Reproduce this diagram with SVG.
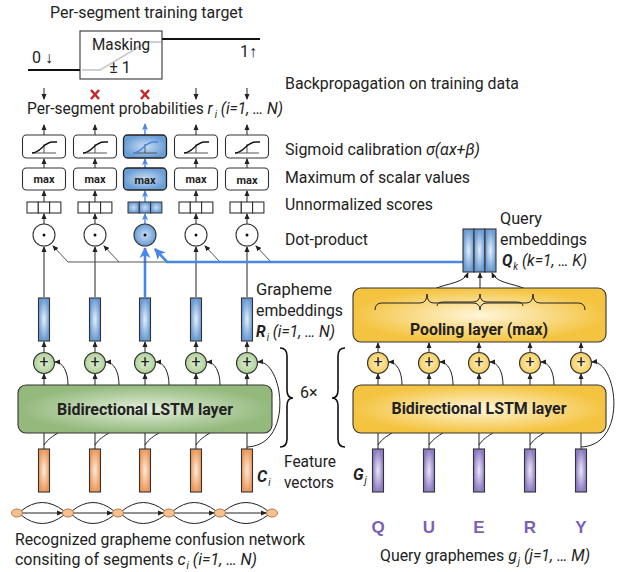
<svg xmlns="http://www.w3.org/2000/svg" width="622" height="572" viewBox="0 0 622 572">
<style>
.t{font-family:Roboto,"Liberation Sans",sans-serif;font-size:16px;fill:#222}
.b{font-weight:bold}
.i{font-style:italic}
.ln{stroke:#222;stroke-width:1;fill:none}
.gl{stroke:#555;stroke-width:1;fill:none}
.bl{stroke:#4a86e8;fill:none}
.box{fill:#fff;stroke:#333;stroke-width:1.1}
.mx{font-family:Roboto,"Liberation Sans",sans-serif;font-weight:bold;font-size:10.5px;fill:#222;text-anchor:middle}
.q{font-family:"Liberation Sans",Arial,sans-serif;font-weight:bold;font-size:17px;fill:#7b5fb8;text-anchor:middle}
</style>
<defs>
<marker id="a" markerUnits="userSpaceOnUse" markerWidth="6" markerHeight="6" refX="5" refY="3" orient="auto"><path d="M0,0.5 L6,3 L0,5.5 z" fill="#222"/></marker>
<marker id="ab" markerUnits="userSpaceOnUse" markerWidth="7" markerHeight="7" refX="6" refY="3.5" orient="auto"><path d="M0,0.5 L7,3.5 L0,6.5 L1.5,3.5 z" fill="#4a86e8"/></marker>
<marker id="abL" markerUnits="userSpaceOnUse" markerWidth="12" markerHeight="12" refX="10" refY="6" orient="auto"><path d="M0,0.5 L11,6 L0,11.5 L3,6 z" fill="#4a86e8"/></marker>
<radialGradient id="gBlue"><stop offset="0" stop-color="#e4eef9"/><stop offset="1" stop-color="#6a9bd3"/></radialGradient>
<radialGradient id="gBlueBox"><stop offset="0" stop-color="#c9def4"/><stop offset="1" stop-color="#6b9dd6"/></radialGradient>
<radialGradient id="gOr"><stop offset="0" stop-color="#fdeadb"/><stop offset="1" stop-color="#ec9a5c"/></radialGradient>
<radialGradient id="gPu"><stop offset="0" stop-color="#ece7f6"/><stop offset="1" stop-color="#8e7cc3"/></radialGradient>
<radialGradient id="gGr"><stop offset="0" stop-color="#e3eedb"/><stop offset="1" stop-color="#93b97c"/></radialGradient>
<radialGradient id="gYe"><stop offset="0" stop-color="#fff6da"/><stop offset="1" stop-color="#f4c441"/></radialGradient>
<radialGradient id="gGrC"><stop offset="0" stop-color="#e0eed6"/><stop offset="1" stop-color="#aed197"/></radialGradient>
<radialGradient id="gYeC"><stop offset="0" stop-color="#fff1c4"/><stop offset="1" stop-color="#f6cd5a"/></radialGradient>
<g id="sig"><path d="M-12,18 H12 M0,9 V18" stroke="#555" stroke-width="1" fill="none"/><path d="M-12,18 C-3,18 -1,7 9,7 H13" stroke="#111" stroke-width="1.3" fill="none"/></g>
</defs>

<g id="target">
<text class="t" x="50" y="18" textLength="193" lengthAdjust="spacingAndGlyphs">Per-segment training target</text>
<rect x="80" y="31" width="82" height="48" fill="#fff" stroke="#333" stroke-width="1.1"/>
<path d="M82,70 H100 L147,42 H161" stroke="#cfcfcf" stroke-width="2" fill="none"/>
<path d="M28,70 H80 M162,39 H260" stroke="#111" stroke-width="2.2" fill="none"/>
<text class="t" x="121" y="50" text-anchor="middle" textLength="58" lengthAdjust="spacingAndGlyphs">Masking</text>
<text class="t" x="120" y="73" text-anchor="middle">± 1</text>
<text class="t" x="32" y="63" font-size="17">0 ↓</text>
<text class="t" x="240" y="57" font-size="17">1↑</text>
</g>

<g id="signals">
<path d="M44,88 V99" class="ln" marker-end="url(#a)"/>
<path d="M196,88 V99" class="ln" marker-end="url(#a)"/>
<path d="M247,88 V99" class="ln" marker-end="url(#a)"/>
<path d="M91,90 L99,99 M99,90 L91,99 M141,90 L149,99 M149,90 L141,99" stroke="#c62828" stroke-width="2.5" fill="none"/>
</g>

<g id="labels">
<text class="t" x="285" y="89" textLength="234" lengthAdjust="spacingAndGlyphs">Backpropagation on training data</text>
<text class="t" x="27" y="114" textLength="256" lengthAdjust="spacingAndGlyphs">Per-segment probabilities <tspan class="i">r</tspan><tspan class="i" font-size="10" dx="2" dy="4">i</tspan><tspan class="i" dy="-4"> (i=1, … N)</tspan></text>
<text class="t" x="285" y="155" textLength="195" lengthAdjust="spacingAndGlyphs">Sigmoid calibration <tspan class="i">σ(αx+β)</tspan></text>
<text class="t" x="285" y="183" textLength="185" lengthAdjust="spacingAndGlyphs">Maximum of scalar values</text>
<text class="t" x="285" y="210" textLength="148" lengthAdjust="spacingAndGlyphs">Unnormalized scores</text>
<text class="t" x="285" y="245" textLength="83" lengthAdjust="spacingAndGlyphs">Dot-product</text>
<text class="t" x="500" y="224" textLength="42" lengthAdjust="spacingAndGlyphs">Query</text>
<text class="t" x="500" y="245" textLength="87" lengthAdjust="spacingAndGlyphs">embeddings</text>
<text class="t" x="502" y="266" textLength="85" lengthAdjust="spacingAndGlyphs"><tspan class="b i">Q</tspan><tspan class="i" font-size="10" dx="1" dy="4">k</tspan><tspan class="i" dy="-4"> (k=1, … K)</tspan></text>
<text class="t" x="256" y="295" textLength="76" lengthAdjust="spacingAndGlyphs">Grapheme</text>
<text class="t" x="256" y="316" textLength="87" lengthAdjust="spacingAndGlyphs">embeddings</text>
<text class="t" x="256" y="337" textLength="79" lengthAdjust="spacingAndGlyphs"><tspan class="b i">R</tspan><tspan class="i" font-size="10" dx="1" dy="4">i</tspan><tspan class="i" dy="-4"> (i=1, … N)</tspan></text>
<text class="t" x="284" y="467" textLength="52" lengthAdjust="spacingAndGlyphs">Feature</text>
<text class="t" x="284" y="488" textLength="50" lengthAdjust="spacingAndGlyphs">vectors</text>
<text class="t" x="257" y="482" font-size="18"><tspan class="b i">C</tspan><tspan class="i" font-size="10" dx="1" dy="4">i</tspan></text>
<text class="t" x="353" y="480" font-size="18"><tspan class="b i">G</tspan><tspan class="i" font-size="10" dx="1" dy="4">j</tspan></text>
<text class="t" x="300" y="398" font-size="17">6×</text>
<text class="t" x="15" y="545" textLength="290" lengthAdjust="spacingAndGlyphs">Recognized grapheme confusion network</text>
<text class="t" x="15" y="565" textLength="242" lengthAdjust="spacingAndGlyphs">consiting of segments <tspan class="i">c</tspan><tspan class="i" font-size="10" dx="1" dy="4">i</tspan><tspan class="i" dy="-4"> (i=1, … N)</tspan></text>
<text class="t" x="380" y="561" textLength="210" lengthAdjust="spacingAndGlyphs">Query graphemes <tspan class="i">g</tspan><tspan class="i" font-size="10" dx="1" dy="4">j</tspan><tspan class="i" dy="-4"> (j=1, … M)</tspan></text>
</g>

<g id="connectors">
<path class="ln" d="M44,224 V214" marker-end="url(#a)"/><path class="ln" d="M44,202 V191" marker-end="url(#a)"/><path class="ln" d="M44,168 V159" marker-end="url(#a)"/><path class="ln" d="M44,135 V125" marker-end="url(#a)"/>
<path class="ln" d="M95,224 V214" marker-end="url(#a)"/><path class="ln" d="M95,202 V191" marker-end="url(#a)"/><path class="ln" d="M95,168 V159" marker-end="url(#a)"/><path class="ln" d="M95,135 V125" marker-end="url(#a)"/>
<path class="ln" d="M196,224 V214" marker-end="url(#a)"/><path class="ln" d="M196,202 V191" marker-end="url(#a)"/><path class="ln" d="M196,168 V159" marker-end="url(#a)"/><path class="ln" d="M196,135 V125" marker-end="url(#a)"/>
<path class="ln" d="M247,224 V214" marker-end="url(#a)"/><path class="ln" d="M247,202 V191" marker-end="url(#a)"/><path class="ln" d="M247,168 V159" marker-end="url(#a)"/><path class="ln" d="M247,135 V125" marker-end="url(#a)"/>
<path class="bl" stroke-width="1.4" d="M145,224 V214" marker-end="url(#ab)"/><path class="bl" stroke-width="1.4" d="M145,202 V191" marker-end="url(#ab)"/><path class="bl" stroke-width="1.4" d="M145,168 V159" marker-end="url(#ab)"/><path class="bl" stroke-width="1.4" d="M145,135 V124" marker-end="url(#ab)"/>
<path class="ln" d="M44,297 V247" marker-end="url(#a)"/>
<path class="ln" d="M95,297 V247" marker-end="url(#a)"/>
<path class="ln" d="M196,297 V247" marker-end="url(#a)"/>
<path class="ln" d="M247,297 V247" marker-end="url(#a)"/>
<path class="bl" stroke-width="2.6" d="M145,297 V248" marker-end="url(#abL)"/>
<path class="gl" d="M68,262 H167"/>
<path class="gl" d="M68,262 L53,246" marker-end="url(#a)"/>
<path class="gl" d="M119,262 L104,246" marker-end="url(#a)"/>
<path class="gl" d="M220,262 L205,246" marker-end="url(#a)"/>
<path class="gl" d="M271,262 L256,246" marker-end="url(#a)"/>
<path class="bl" stroke-width="2.6" d="M463,262 H167 L155,249" marker-end="url(#abL)"/>
<path class="ln" d="M44,352 V342" marker-end="url(#a)"/><path class="ln" d="M95,352 V342" marker-end="url(#a)"/><path class="ln" d="M145,352 V342" marker-end="url(#a)"/><path class="ln" d="M196,352 V342" marker-end="url(#a)"/><path class="ln" d="M247,352 V342" marker-end="url(#a)"/>
<path class="ln" d="M44,385 V374" marker-end="url(#a)"/><path class="ln" d="M95,385 V374" marker-end="url(#a)"/><path class="ln" d="M145,385 V374" marker-end="url(#a)"/><path class="ln" d="M196,385 V374" marker-end="url(#a)"/><path class="ln" d="M247,385 V374" marker-end="url(#a)"/>
<path class="ln" d="M68,385 C68,372 63,362 55,362" marker-end="url(#a)"/>
<path class="ln" d="M119,385 C119,372 114,362 106,362" marker-end="url(#a)"/>
<path class="ln" d="M169,385 C169,372 164,362 156,362" marker-end="url(#a)"/>
<path class="ln" d="M220,385 C220,372 215,362 207,362" marker-end="url(#a)"/>
<path class="ln" d="M247,447 C295,445 283,360 258,362" marker-end="url(#a)"/>
<path class="ln" d="M44,449 V433 M95,449 V433 M145,449 V433 M196,449 V433 M247,449 V433"/>
<path class="ln" d="M44,445 C48,439 53,436 58,433 M95,445 C99,439 104,436 109,433 M145,445 C149,439 154,436 159,433 M196,445 C200,439 205,436 210,433"/>
<path class="ln" d="M378,352 V343" marker-end="url(#a)"/><path class="ln" d="M429,352 V343" marker-end="url(#a)"/><path class="ln" d="M479,352 V343" marker-end="url(#a)"/><path class="ln" d="M530,352 V343" marker-end="url(#a)"/><path class="ln" d="M581,352 V343" marker-end="url(#a)"/>
<path class="ln" d="M378,385 V374" marker-end="url(#a)"/><path class="ln" d="M429,385 V374" marker-end="url(#a)"/><path class="ln" d="M479,385 V374" marker-end="url(#a)"/><path class="ln" d="M530,385 V374" marker-end="url(#a)"/><path class="ln" d="M581,385 V374" marker-end="url(#a)"/>
<path class="ln" d="M402,385 C402,372 397,362 389,362" marker-end="url(#a)"/>
<path class="ln" d="M453,385 C453,372 448,362 440,362" marker-end="url(#a)"/>
<path class="ln" d="M503,385 C503,372 498,362 490,362" marker-end="url(#a)"/>
<path class="ln" d="M554,385 C554,372 549,362 541,362" marker-end="url(#a)"/>
<path class="ln" d="M581,447 C629,445 617,360 592,362" marker-end="url(#a)"/>
<path class="ln" d="M378,449 V433 M429,449 V433 M479,449 V433 M530,449 V433 M581,449 V433"/>
<path class="ln" d="M378,445 C382,439 387,436 392,433 M429,445 C433,439 438,436 443,433 M479,445 C483,439 488,436 493,433 M530,445 C534,439 539,436 544,433"/>
<path class="ln" d="M427,294 C440,282 462,286 468,273" marker-end="url(#a)"/>
<path class="ln" d="M480,294 V273" marker-end="url(#a)"/>
<path class="ln" d="M533,294 C520,282 498,286 492,273" marker-end="url(#a)"/>
<path d="M280,348 Q287,348 287,356 L287,390 Q287,398 293,398 Q287,398 287,406 L287,439 Q287,447 280,447" stroke="#111" stroke-width="1.6" fill="none"/>
<path d="M345,348 Q338,348 338,356 L338,390 Q338,398 332,398 Q338,398 338,406 L338,439 Q338,447 345,447" stroke="#111" stroke-width="1.6" fill="none"/>
<g class="ln" stroke-width="0.9">
<path d="M22,513 H62" marker-end="url(#a)"/><path d="M73,513 H112" marker-end="url(#a)"/><path d="M123,513 H163" marker-end="url(#a)"/><path d="M174,513 H214" marker-end="url(#a)"/><path d="M225,513 H266" marker-end="url(#a)"/>
<path d="M21,511 Q42,494 64,511 M21,515 Q42,532 64,515"/>
<path d="M72,511 Q93,494 114,511 M72,515 Q93,532 114,515"/>
<path d="M122,511 Q143,494 165,511 M122,515 Q143,532 165,515"/>
<path d="M173,511 Q194,494 216,511 M173,515 Q194,532 216,515"/>
<path d="M224,511 Q246,494 268,511 M224,515 Q246,532 268,515"/>
</g>
</g>

<g id="col1"><rect class="box" x="22.5" y="135" width="43" height="23" rx="4"/><use href="#sig" x="44" y="135"/><rect class="box" x="22.5" y="168" width="43" height="22" rx="4"/><text class="mx" x="44" y="183" textLength="21" lengthAdjust="spacingAndGlyphs">max</text><rect class="box" x="27" y="202" width="11.3" height="11"/><rect class="box" x="38.3" y="202" width="11.3" height="11"/><rect class="box" x="49.6" y="202" width="11.3" height="11"/><circle class="box" cx="44" cy="235" r="11"/><circle cx="44" cy="235" r="1.5" fill="#111"/></g>
<g id="col2"><rect class="box" x="73.5" y="135" width="43" height="23" rx="4"/><use href="#sig" x="95" y="135"/><rect class="box" x="73.5" y="168" width="43" height="22" rx="4"/><text class="mx" x="95" y="183" textLength="21" lengthAdjust="spacingAndGlyphs">max</text><rect class="box" x="78" y="202" width="11.3" height="11"/><rect class="box" x="89.3" y="202" width="11.3" height="11"/><rect class="box" x="100.6" y="202" width="11.3" height="11"/><circle class="box" cx="95" cy="235" r="11"/><circle cx="95" cy="235" r="1.5" fill="#111"/></g>
<g id="col3"><rect x="123.5" y="135" width="43" height="23" rx="4" fill="url(#gBlueBox)" stroke="#222" stroke-width="1.3"/><path d="M133,153 H157 M145,144 V153" stroke="#555" stroke-width="1" fill="none"/><path d="M133,153 C142,153 144,142 154,142 H158" stroke="#4a86e8" stroke-width="1.4" fill="none"/><rect x="123.5" y="168" width="43" height="22" rx="4" fill="url(#gBlueBox)" stroke="#222" stroke-width="1.3"/><text class="mx" x="145" y="184" textLength="21" lengthAdjust="spacingAndGlyphs">max</text><rect x="128" y="202" width="11.3" height="11" fill="url(#gBlueBox)" stroke="#333"/><rect x="139.3" y="202" width="11.3" height="11" fill="url(#gBlueBox)" stroke="#333"/><rect x="150.6" y="202" width="11.3" height="11" fill="url(#gBlueBox)" stroke="#333"/><circle cx="145" cy="235" r="11" fill="url(#gBlueBox)" stroke="#333" stroke-width="1.1"/><circle cx="145" cy="235" r="1.5" fill="#111"/></g>
<g id="col4"><rect class="box" x="174.5" y="135" width="43" height="23" rx="4"/><use href="#sig" x="196" y="135"/><rect class="box" x="174.5" y="168" width="43" height="22" rx="4"/><text class="mx" x="196" y="183" textLength="21" lengthAdjust="spacingAndGlyphs">max</text><rect class="box" x="179" y="202" width="11.3" height="11"/><rect class="box" x="190.3" y="202" width="11.3" height="11"/><rect class="box" x="201.6" y="202" width="11.3" height="11"/><circle class="box" cx="196" cy="235" r="11"/><circle cx="196" cy="235" r="1.5" fill="#111"/></g>
<g id="col5"><rect class="box" x="225.5" y="135" width="43" height="23" rx="4"/><use href="#sig" x="247" y="135"/><rect class="box" x="225.5" y="168" width="43" height="22" rx="4"/><text class="mx" x="247" y="184" textLength="21" lengthAdjust="spacingAndGlyphs">max</text><rect class="box" x="230" y="202" width="11.3" height="11"/><rect class="box" x="241.3" y="202" width="11.3" height="11"/><rect class="box" x="252.6" y="202" width="11.3" height="11"/><circle class="box" cx="247" cy="235" r="11"/><circle cx="247" cy="235" r="1.5" fill="#111"/></g>

<g id="query-emb" stroke="#333" stroke-width="1.1">
<rect x="463" y="229" width="11" height="43" fill="url(#gBlue)"/>
<rect x="474" y="229" width="11" height="43" fill="url(#gBlue)"/>
<rect x="485" y="229" width="11" height="43" fill="url(#gBlue)"/>
</g>

<g id="R" stroke="#333" stroke-width="1.1" fill="url(#gBlue)">
<rect x="38.5" y="298" width="11" height="43"/><rect x="89.5" y="298" width="11" height="43"/><rect x="139.5" y="298" width="11" height="43"/><rect x="190.5" y="298" width="11" height="43"/><rect x="241.5" y="298" width="11" height="43"/>
</g>

<g id="addL">
<g stroke="#333" stroke-width="1.1" fill="url(#gGrC)"><circle cx="44" cy="363" r="10.5"/><circle cx="95" cy="363" r="10.5"/><circle cx="145" cy="363" r="10.5"/><circle cx="196" cy="363" r="10.5"/><circle cx="247" cy="363" r="10.5"/></g>
<g class="t" font-size="11" text-anchor="middle"><text x="44" y="367">+</text><text x="95" y="367">+</text><text x="145" y="367">+</text><text x="196" y="367">+</text><text x="247" y="367">+</text></g>
</g>

<g id="lstmL"><rect x="18" y="385" width="254" height="48" rx="8" fill="url(#gGr)" stroke="#333" stroke-width="1.1"/><text class="t b" x="145" y="415" text-anchor="middle" font-size="18" textLength="176" lengthAdjust="spacingAndGlyphs">Bidirectional LSTM layer</text></g>

<g id="C" stroke="#333" stroke-width="1.1" fill="url(#gOr)">
<rect x="38.5" y="449" width="11" height="43"/><rect x="89.5" y="449" width="11" height="43"/><rect x="139.5" y="449" width="11" height="43"/><rect x="190.5" y="449" width="11" height="43"/><rect x="241.5" y="449" width="11" height="43"/>
</g>

<g id="confnet" fill="#f6c08f" stroke="#b0703e" stroke-width="0.9">
<ellipse cx="17" cy="513" rx="5.5" ry="4"/><ellipse cx="68" cy="513" rx="5.5" ry="4"/><ellipse cx="118" cy="513" rx="5.5" ry="4"/><ellipse cx="169" cy="513" rx="5.5" ry="4"/><ellipse cx="220" cy="513" rx="5.5" ry="4"/><ellipse cx="272" cy="513" rx="5.5" ry="4"/>
</g>

<g id="pooling"><rect x="353" y="288" width="253" height="54" rx="8" fill="url(#gYe)" stroke="#333" stroke-width="1.1"/>
<path d="M375,310 Q375,303 382,303 L420,303 Q427,303 427,294 Q427,303 434,303 L473,303 Q480,303 480,310" class="ln"/>
<path d="M437,306 Q437,302 444,302 L473,302 Q480,302 480,294 Q480,302 487,302 L516,302 Q523,302 523,306" class="ln"/>
<path d="M480,310 Q480,303 487,303 L526,303 Q533,303 533,294 Q533,303 540,303 L578,303 Q585,303 585,310" class="ln"/>
<text class="t b" x="479" y="335" text-anchor="middle" font-size="18" textLength="138" lengthAdjust="spacingAndGlyphs">Pooling layer (max)</text></g>

<g id="addR">
<g stroke="#333" stroke-width="1.1" fill="url(#gYeC)"><circle cx="378" cy="363" r="10.5"/><circle cx="429" cy="363" r="10.5"/><circle cx="479" cy="363" r="10.5"/><circle cx="530" cy="363" r="10.5"/><circle cx="581" cy="363" r="10.5"/></g>
<g class="t" font-size="11" text-anchor="middle"><text x="378" y="367">+</text><text x="429" y="367">+</text><text x="479" y="367">+</text><text x="530" y="367">+</text><text x="581" y="367">+</text></g>
</g>

<g id="lstmR"><rect x="353" y="385" width="253" height="48" rx="8" fill="url(#gYe)" stroke="#333" stroke-width="1.1"/><text class="t b" x="479" y="414" text-anchor="middle" font-size="18" textLength="175" lengthAdjust="spacingAndGlyphs">Bidirectional LSTM layer</text></g>

<g id="G" stroke="#333" stroke-width="1.1" fill="url(#gPu)">
<rect x="372.5" y="449" width="11" height="43"/><rect x="423.5" y="449" width="11" height="43"/><rect x="473.5" y="449" width="11" height="43"/><rect x="524.5" y="449" width="11" height="43"/><rect x="575.5" y="449" width="11" height="43"/>
</g>

<g id="letters"><text class="q" x="378" y="533">Q</text><text class="q" x="429" y="533">U</text><text class="q" x="479" y="533">E</text><text class="q" x="530" y="533">R</text><text class="q" x="581" y="533">Y</text></g>
</svg>
